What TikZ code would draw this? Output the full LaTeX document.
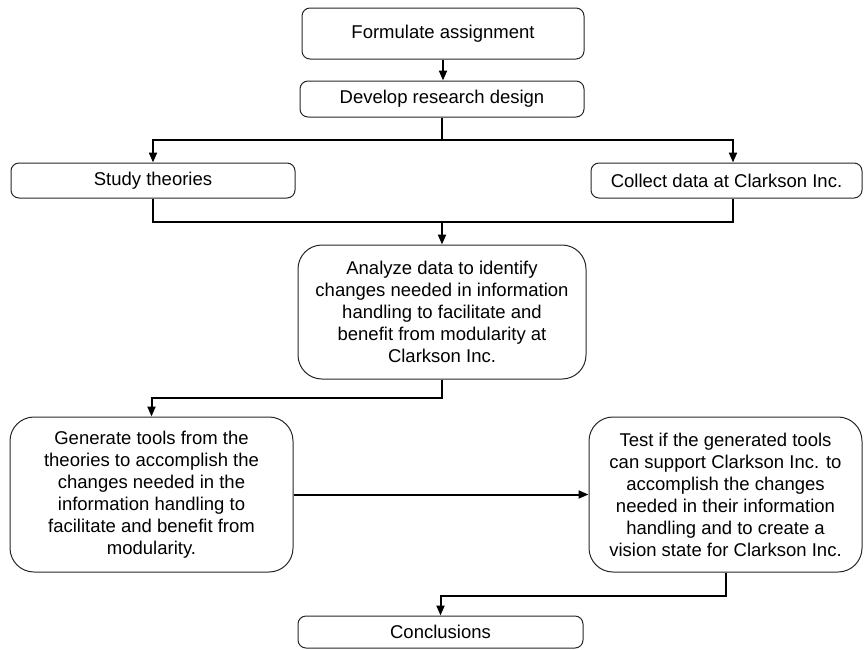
\documentclass[tikz,border=0pt]{standalone}
\usepackage{fontspec}
\setmainfont{Liberation Sans}
\usetikzlibrary{arrows.meta}
\begin{document}
\begin{tikzpicture}[x=1pt,y=-1pt,
  box/.style={draw=black!85, line width=1pt, rectangle, align=center,
    inner sep=0pt, font=\fontsize{18.5}{22}\selectfont},
  smallbox/.style={box, rounded corners=8pt},
  bigbox/.style={box, rounded corners=24pt},
  link/.style={line width=2pt, draw=black},
  arr/.style={link, -{Triangle[width=8pt,length=10pt]}}]
\useasboundingbox (0,0) rectangle (864,649);

% process steps
\node[smallbox, minimum width=282pt, minimum height=51pt] (form) at (443,33.5) {Formulate assignment};
\node[smallbox, minimum width=284pt, minimum height=36pt] (dev) at (442,99) {Develop research design};
\node[smallbox, minimum width=284pt, minimum height=35pt] (study) at (153,180.5) {Study theories};
\node[smallbox, minimum width=271pt, minimum height=35pt] (collect) at (726.5,180.5) {Collect data at Clarkson Inc.};
\node[bigbox, minimum width=288pt, minimum height=134pt] (analyze) at (442,312)
  {Analyze data to identify\\changes needed in information\\handling to facilitate and\\benefit from modularity at\\Clarkson Inc.};
\node[bigbox, minimum width=283pt, minimum height=155pt] (gen) at (151.5,494.5)
  {Generate tools from the\\theories to accomplish the\\changes needed in the\\information handling to\\facilitate and benefit from\\modularity.};
\node[bigbox, minimum width=273pt, minimum height=155pt] (test) at (725.5,494.5)
  {Test if the generated tools\\can support Clarkson Inc. to\\accomplish the changes\\needed in their information\\handling and to create a\\vision state for Clarkson Inc.};
\node[smallbox, minimum width=285pt, minimum height=32pt] (concl) at (440.5,632) {Conclusions};

% rows of the branching connectors
\coordinate (r1) at (0,140);
\coordinate (r2) at (0,222);
\coordinate (r3) at (0,398);
\coordinate (r4) at (0,596);
\coordinate (cin) at ([xshift=6.5pt]collect.north);
\coordinate (cout) at ([xshift=6.5pt]collect.south);

% connectors
\draw[arr] (form.south) -- (form.south |- dev.north);
\draw[arr] (dev.south) -- (dev.south |- r1) -| (study.north);
\draw[arr] (dev.south |- r1) -| (cin);
\draw[link] (study.south) |- (cout |- r2) -- (cout);
\draw[arr] (analyze.north |- r2) -- (analyze.north);
\draw[arr] (analyze.south) -- (analyze.south |- r3) -| (gen.north);
\draw[arr] (gen.east) -- (test.west);
\draw[arr] (test.south) -- (test.south |- r4) -| (concl.north);
\end{tikzpicture}
\end{document}
